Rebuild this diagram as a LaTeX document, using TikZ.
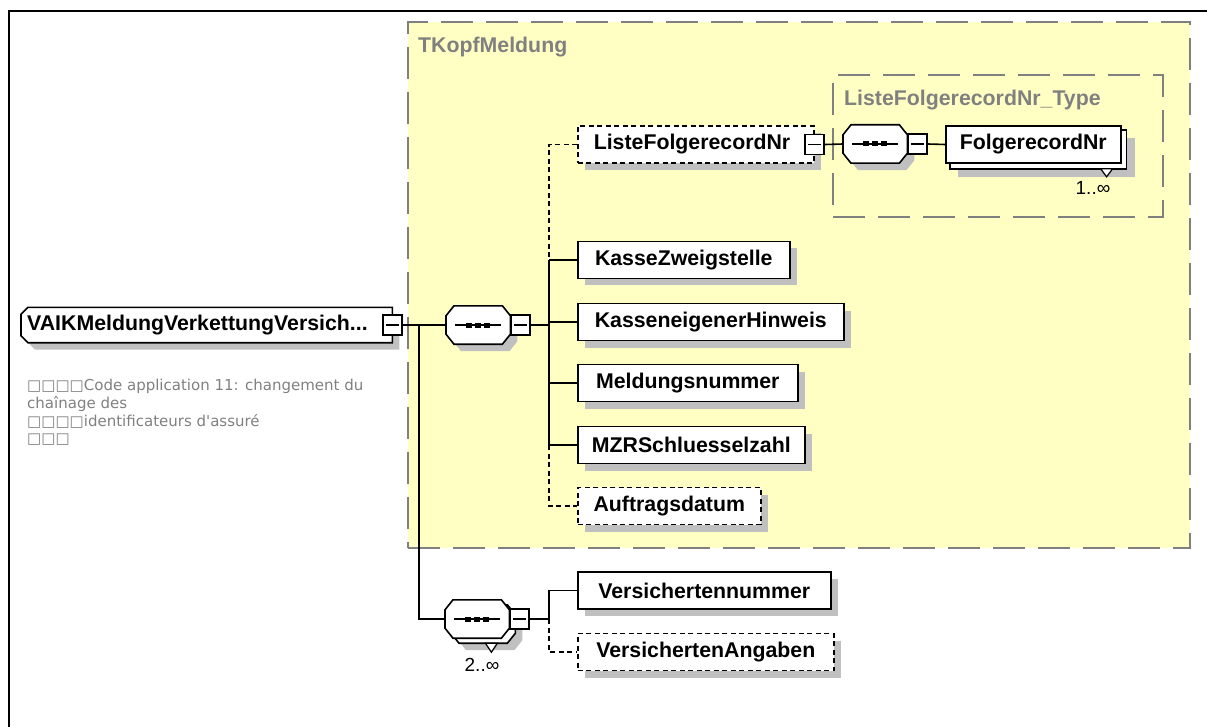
\documentclass[tikz,border=0pt]{standalone}
\usepackage{fontspec}
\setmainfont{Liberation Sans}
\newfontfamily\descfont{DejaVu Sans}
\usetikzlibrary{calc,shadows}
\pgfdeclarelayer{bg}
\pgfdeclarelayer{shp}
\pgfsetlayers{bg,shp,main}
\definecolor{xsyellow}{RGB}{255,255,196}
\definecolor{xsgray}{RGB}{128,128,128}
\definecolor{shgray}{RGB}{192,192,192}

\newcommand{\octpath}[3]{($(#1.north west)+(#2+8,#3)$) -- ($(#1.north east)+(#2-8,#3)$) -- ($(#1.north east)+(#2,#3+10)$) -- ($(#1.south east)+(#2,#3-10)$) -- ($(#1.south east)+(#2-8,#3)$) -- ($(#1.south west)+(#2+8,#3)$) -- ($(#1.south west)+(#2,#3-10)$) -- ($(#1.north west)+(#2,#3+10)$) -- cycle}
\newcommand{\seqdots}[1]{%
  \draw[line width=1.5pt] ($(#1.west)+(9,0)$) -- ($(#1.east)+(-9,0)$);
  \foreach \dx in {-9,0,9} \fill ($(#1.center)+(\dx-3,-2.5)$) rectangle ($(#1.center)+(\dx+3,2.5)$);}
\newcommand{\compositor}[1]{%
  \begin{pgfonlayer}{shp}
  \fill[shgray] \octpath{#1}{7}{7};
  \filldraw[fill=white, line width=1.6pt] \octpath{#1}{0}{0};
  \end{pgfonlayer}
  \seqdots{#1}}
\newcommand{\compositorM}[1]{%
  \begin{pgfonlayer}{shp}
  \fill[shgray] \octpath{#1}{13}{12};
  \filldraw[fill=white, line width=1.6pt] \octpath{#1}{6}{5};
  \filldraw[fill=white, line width=1.6pt] \octpath{#1}{0}{0};
  \end{pgfonlayer}
  \seqdots{#1}}

\begin{document}
\begin{tikzpicture}[x=1pt,y=-1pt,
  lbl/.style={font=\fontsize{21.3}{24}\selectfont\bfseries},
  box/.style={lbl, draw=black, line width=1.6pt, fill=white, minimum height=37pt, inner sep=0pt, anchor=west},
  shadowed/.style={general shadow={fill=shgray, shadow xshift=7pt, shadow yshift=-7pt}},
  elem/.style={box, shadowed},
  optelem/.style={elem, dash pattern=on 5pt off 3.5pt},
  comp/.style={draw=none, minimum width=64pt, minimum height=38pt, inner sep=0pt, anchor=west},
  btn/.style={draw=black, fill=white, line width=1.5pt, minimum width=19pt, minimum height=20pt, inner sep=0pt,
    path picture={\draw[line width=1.5pt] ([xshift=3pt]path picture bounding box.west) -- ([xshift=-3pt]path picture bounding box.east);}},
  conn/.style={line width=1.6pt},
  dconn/.style={conn, dash pattern=on 5pt off 3.5pt},
  grp/.style={draw=xsgray, line width=2.2pt, dash pattern=on 32pt off 13pt, inner sep=0pt, anchor=north west},
  grplbl/.style={lbl, text=xsgray, inner sep=0pt, anchor=west},
  mult/.style={font=\fontsize{19}{21}\selectfont, inner sep=0pt}]
\useasboundingbox (0,0) rectangle (1207,727);
\draw[line width=1.4pt] (9,727) -- (9,11) -- (1207,11);

% group boxes
\begin{pgfonlayer}{bg}
\node[grp, fill=xsyellow, minimum width=782pt, minimum height=526pt] (tkopf) at (407,21) {};
\node[grp, minimum width=330pt, minimum height=142pt] (listetype) at (832,74) {};
\end{pgfonlayer}
\node[grplbl] (tkopflbl) at (418,47) {TKopfMeldung};
\node[grplbl] (listetypelbl) at (844,100) {ListeFolgerecordNr\_Type};

% root
\node[lbl, anchor=west, minimum height=35pt, inner xsep=6pt, inner ysep=0pt, text width=359pt, align=left] (root) at (21,325) {VAIKMeldungVerkettungVersich...};
\begin{pgfonlayer}{shp}
\fill[shgray] ($(root.north west)+(14,7)$) -- ($(root.north east)+(7,7)$) -- ($(root.south east)+(7,7)$) -- ($(root.south west)+(14,7)$) -- ($(root.south west)+(7,0)$) -- ($(root.north west)+(7,14)$) -- cycle;
\filldraw[fill=white, line width=1.6pt] ($(root.north west)+(7,0)$) -- (root.north east) -- (root.south east) -- ($(root.south west)+(7,0)$) -- ($(root.south west)+(0,-7)$) -- ($(root.north west)+(0,7)$) -- cycle;
\end{pgfonlayer}
\node[btn] (rb) at (root.east) {};

\node[anchor=north west, align=left, text=xsgray, font=\descfont\fontsize{15}{17.8}\selectfont, inner sep=0pt] (desc) at (27,379)
{□□□□Code application 11: changement du\\chaînage des\\□□□□identificateurs d'assuré\\□□□};

% first sequence
\node[comp] (seq1) at (446,325) {};
\compositor{seq1}
\node[btn, anchor=west] (b1) at (seq1.east) {};

% children of seq1
\node[optelem, text width=204pt, inner xsep=16pt, align=left] (lfn) at (577,144.5) {ListeFolgerecordNr};
\node[btn] (lb) at (lfn.east) {};
\node[elem, minimum width=212pt] (kz) at (577,260) {KasseZweigstelle};
\node[elem, minimum width=266pt] (kh) at (577,322) {KasseneigenerHinweis};
\node[elem, minimum width=220pt] (mn) at (577,383) {Meldungsnummer};
\node[elem, minimum width=227pt] (mzr) at (577,445) {MZRSchluesselzahl};
\node[optelem, minimum width=183pt] (ad) at (577,506) {Auftragsdatum};

% ListeFolgerecordNr_Type content
\node[comp] (seq2) at (843,144) {};
\compositor{seq2}
\node[btn, anchor=west] (b2) at (seq2.east) {};
\node[box, minimum width=175pt] (fnr) at (945,144.5) {FolgerecordNr};
\begin{pgfonlayer}{shp}
\fill[shgray] ($(fnr.north west)+(13,13)$) rectangle ($(fnr.south east)+(13,13)$);
\filldraw[fill=white, line width=1.6pt] ($(fnr.north west)+(5,5)$) rectangle ($(fnr.south east)+(5,5)$);
\end{pgfonlayer}
\filldraw[fill=white, line width=1.2pt] ($(fnr.south east)+(-21,5)$) -- ($(fnr.south east)+(-9,5)$) -- ($(fnr.south east)+(-15,13)$) -- cycle;
\node[mult] (m1) at (1093,188) {1..∞};

% second sequence
\node[comp] (seq3) at (445,619) {};
\compositorM{seq3}
\node[btn, anchor=west] (b3) at (seq3.east) {};
\filldraw[fill=white, line width=1.2pt] ($(seq3.south east)+(-24,5)$) -- ($(seq3.south east)+(-12,5)$) -- ($(seq3.south east)+(-18,14)$) -- cycle;
\node[mult] (m2) at (482,665) {2..∞};
\node[elem, minimum width=253pt] (vn) at (577,590.5) {Versichertennummer};
\node[optelem, minimum width=256pt] (va) at (577,652) {VersichertenAngaben};

% connectors
\coordinate (br) at (419,325);
\coordinate (bus1) at (549,0);
\coordinate (bus2) at (549,0);
\draw[conn] (rb.east) -- (seq1.west);
\draw[conn] (br) |- (seq3.west);
\draw[conn] (b1.east) -- (b1.east -| bus1);
\draw[dconn] (lfn.west) -| (bus1 |- kz.west);
\draw[conn] (bus1 |- kz.west) -- (bus1 |- mzr.west);
\draw[dconn] (bus1 |- mzr.west) |- (ad.west);
\foreach \n in {kz,kh,mn,mzr} \draw[conn] (bus1 |- \n.west) -- (\n.west);
\draw[conn] (lb.east) -- (seq2.west);
\draw[conn] (b2.east) -- (fnr.west);
\draw[conn] (b3.east) -- (b3.east -| bus2) |- (vn.west);
\draw[dconn] (b3.east -| bus2) |- (va.west);
\end{tikzpicture}
\end{document}
